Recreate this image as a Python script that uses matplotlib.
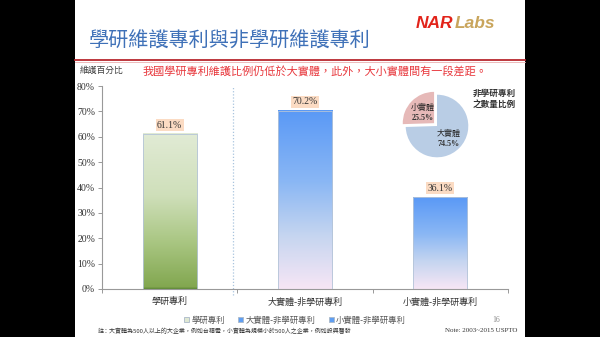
import numpy as np
import matplotlib
matplotlib.use("Agg")
import matplotlib.pyplot as plt
from matplotlib.colors import LinearSegmentedColormap
from matplotlib.lines import Line2D
from matplotlib.patches import Rectangle
from matplotlib.ticker import PercentFormatter

plt.rcParams['font.family'] = ['Noto Sans CJK TC', 'DejaVu Sans']

# maintenance ratio per patent group
categories = ['學研專利', '大實體-非學研專利', '小實體-非學研專利']
ratios = [0.611, 0.702, 0.361]
yticks = [0.0, 0.1, 0.2, 0.3, 0.4, 0.5, 0.6, 0.7, 0.8]

# share of non-academic patents by entity size
pie_names = ['小實體', '大實體']
pie_shares = [25.5, 74.5]

title = '學研維護專利與非學研維護專利'
subtitle = '我國學研專利維護比例仍低於大實體，此外，大小實體間有一段差距。'
footnote = '註：大實體為500人以上的大企業，例如台積電，小實體為規模小於500人之企業，例如設興醫發'

W, H = 600, 337


def fx(px):
    return px / W


def fy(py):
    return 1 - py / H


fig = plt.figure(figsize=(6, 3.37), dpi=100, facecolor='black')

# white slide area between the black side bars
fig.add_artist(Rectangle((fx(75), 0), fx(450), 1, transform=fig.transFigure,
                         facecolor='white', edgecolor='none', zorder=0))

# header
fig.text(fx(89), fy(41), title, fontsize=14.5, color='#3f71b8', va='center', ha='left')
nar = fig.text(fx(416), fy(24), 'NAR', family='Liberation Sans', weight='bold', style='italic',
               fontsize=12.5, color='#e2231a', va='center', ha='left')
renderer = fig.canvas.get_renderer()
nar_end = nar.get_window_extent(renderer).x1 / fig.bbox.width
fig.text(nar_end + fx(1), fy(24), 'Labs', family='Liberation Sans', weight='bold', style='italic',
         fontsize=12.5, color='#c9a55c', va='center', ha='left')
fig.add_artist(Line2D([fx(75), fx(525)], [fy(60), fy(60)], color='#b8282e', lw=1.3,
                      transform=fig.transFigure))
fig.add_artist(Line2D([fx(75), fx(525)], [fy(61.6), fy(61.6)], color='#eab0b0', lw=0.6,
                      transform=fig.transFigure))

fig.text(fx(80), fy(70), '維護百分比', fontsize=6.3, color='#404040', va='center', ha='left')
fig.text(fx(143), fy(72), subtitle, fontsize=8, color='#e8383d', va='center', ha='left')

# bar chart
ax = fig.add_axes([fx(102), fy(289), fx(406), fy(86) - fy(289)])
ax.set_facecolor('none')

green = LinearSegmentedColormap.from_list('green', [
    (0.0, '#5f8a35'), (0.012, '#82a750'), (0.3, '#a9c682'),
    (0.6, '#cfdfba'), (1.0, '#e1ebd5')])
blue = LinearSegmentedColormap.from_list('blue', [
    (0.0, '#f7e6f5'), (0.3, '#c5d5f0'), (0.6, '#8ab7f4'), (1.0, '#5a99f6')])
face_colors = ['#dfe8d3', '#5f9ef2', '#5f9ef2']
cmaps = [green, blue, blue]

x = np.arange(len(categories))
grad = np.linspace(0, 1, 256).reshape(-1, 1)
for i, (cat, val) in enumerate(zip(categories, ratios)):
    bars = ax.bar(x[i], val, width=0.4, color=face_colors[i], edgecolor='#aab8c8',
                  linewidth=0.6, label=cat, zorder=2)
    rect = bars[0]
    x0 = rect.get_x()
    ax.imshow(grad, extent=(x0, x0 + rect.get_width(), 0, val), origin='lower',
              cmap=cmaps[i], aspect='auto', zorder=2.5)
    ax.bar(x[i], val, width=0.4, facecolor='none', edgecolor='#b4c4d8', linewidth=0.6, zorder=3)
    ax.annotate(f'{val * 100:.1f}%', xy=(x[i], val), xytext=(0, 3.2),
                textcoords='offset points', ha='center', va='bottom',
                family='Liberation Serif', fontsize=7, color='#333333',
                bbox=dict(boxstyle='square,pad=0.15', facecolor='#fbdbc3', edgecolor='none'))

ax.set_xlim(-0.5, 2.5)
ax.set_ylim(0, 0.8)
ax.axvline(0.47, ymin=-0.03, ymax=1, color='#a9c4de', lw=0.9, ls=(0, (1, 1.5)),
           clip_on=False, zorder=1)

for side in ('top', 'right'):
    ax.spines[side].set_visible(False)
for side in ('left', 'bottom'):
    ax.spines[side].set_color('#999999')
    ax.spines[side].set_linewidth(0.8)

ax.set_yticks(yticks)
ax.yaxis.set_major_formatter(PercentFormatter(1.0, decimals=0))
ax.tick_params(axis='y', length=3, width=0.7, color='#999999', pad=2,
               labelsize=7, labelcolor='#333333')
for lab in ax.get_yticklabels():
    lab.set_family('Liberation Serif')

ax.set_xticks(x)
ax.set_xticklabels(categories, fontsize=6.5, color='#333333')
ax.set_xticks([-0.5, 0.5, 1.5, 2.5], minor=True)
ax.tick_params(axis='x', which='major', length=0, pad=6)
ax.tick_params(axis='x', which='minor', length=3, width=0.7, color='#999999')

fig.legend(loc='center', bbox_to_anchor=(fx(295), fy(320)), ncol=3, frameon=False,
           fontsize=6, labelcolor='#555555', handlelength=0.6, handleheight=0.6,
           handletextpad=0.25, columnspacing=1.6, borderpad=0)

# entity-size pie
pax = fig.add_axes([fx(437 - 36), fy(126 + 36), fx(72), fy(126 - 36) - fy(126 + 36)])
explode = [0.13, 0]
wedges, _ = pax.pie(pie_shares, colors=['#e6b9b8', '#b9cde5'], startangle=90,
                    explode=explode, radius=1,
                    wedgeprops=dict(edgecolor='none'))
pax.set_xlim(-1.15, 1.15)
pax.set_ylim(-1.15, 1.15)
pax.set_aspect('equal')
pax.axis('off')
for w, name, share, ex in zip(wedges, pie_names, pie_shares, explode):
    ang = np.deg2rad((w.theta1 + w.theta2) / 2)
    r = 0.52 + ex
    cx, cy = r * np.cos(ang), r * np.sin(ang)
    pax.text(cx, cy + 0.14, name, ha='center', va='center', fontsize=5.8, color='#222222')
    pax.text(cx, cy - 0.2, f'{share:.1f}%', ha='center', va='center', fontsize=5.8,
             family='Liberation Serif', weight='bold', color='#333333')

fig.text(fx(473), fy(93), '非學研專利', fontsize=6.2, weight='bold', color='#333333',
         va='center', ha='left')
fig.text(fx(473), fy(104), '之數量比例', fontsize=6.2, weight='bold', color='#333333',
         va='center', ha='left')

# footer
fig.text(fx(98), fy(331), footnote, fontsize=4.3, color='#333333', va='center', ha='left')
fig.text(fx(445), fy(331), 'Note: 2003~2015 USPTO', family='Liberation Serif', fontsize=5,
         color='#333333', va='center', ha='left')
fig.text(fx(492), fy(320), '16', family='Liberation Serif', fontsize=5.5, color='#888888',
         va='center', ha='left')

fig.savefig('out.png', dpi=100, facecolor='black')
